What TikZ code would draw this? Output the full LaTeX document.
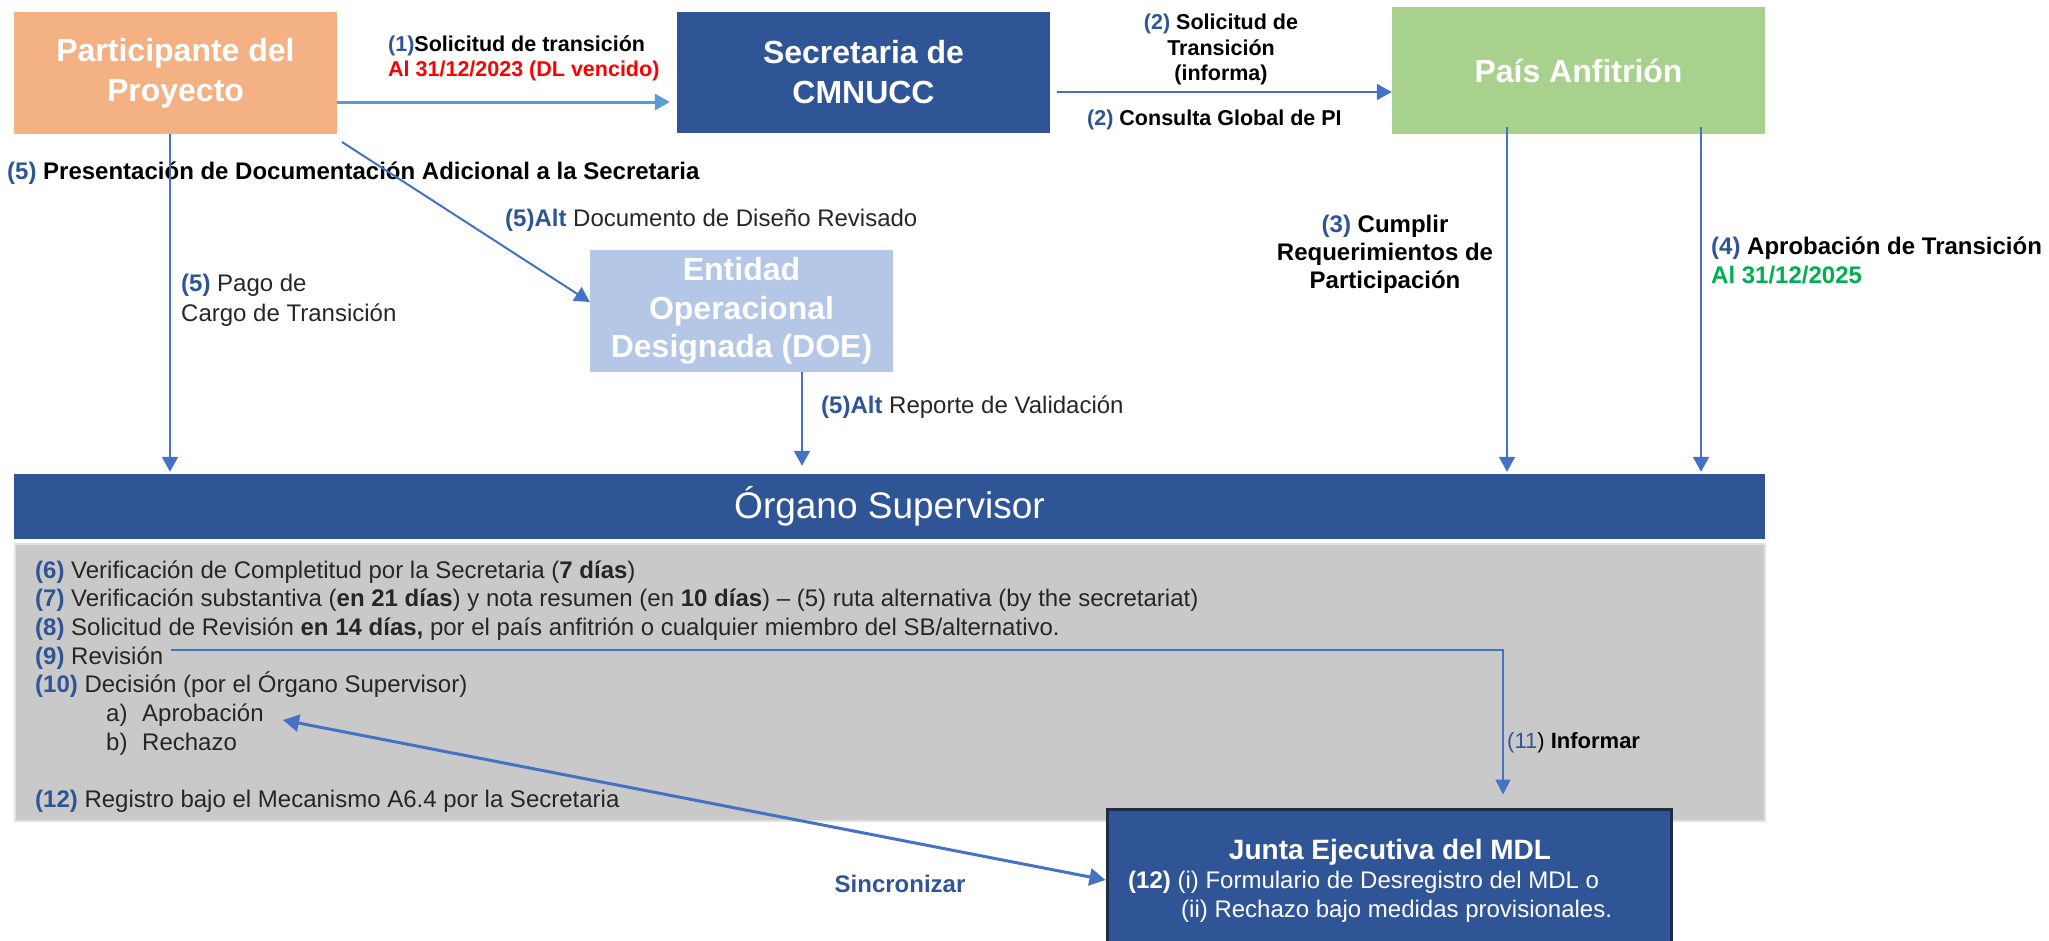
\documentclass[tikz,border=0pt]{standalone}
\usepackage{fontspec}
\setmainfont{Liberation Sans}
\usetikzlibrary{arrows.meta}
\definecolor{cOrange}{HTML}{F4B183}
\definecolor{cBlue}{HTML}{2F5597}
\definecolor{cGreen}{HTML}{A9D18E}
\definecolor{cLight}{HTML}{B4C7E7}
\definecolor{cGray}{HTML}{C9C9C9}
\definecolor{cGrayEdge}{HTML}{E2E2E2}
\definecolor{cArrow}{HTML}{4472C4}
\definecolor{cArrowL}{HTML}{5B9BD5}
\definecolor{cNum}{HTML}{2F5597}
\definecolor{cText}{HTML}{262626}
\definecolor{cRed}{HTML}{FF0000}
\definecolor{cGreenT}{HTML}{00B050}
\definecolor{cEdge}{HTML}{1F2C46}
\newcommand\nb[1]{\textcolor{cNum}{\textbf{#1}}}
\begin{document}
\begin{tikzpicture}[x=1pt,y=-1pt,
  box/.style={rectangle, inner sep=0pt, align=center, text=white},
  bigtxt/.style={font=\fontsize{32}{40}\selectfont\bfseries},
  lbl/.style={inner sep=0pt, text=black},
  gline/.style={inner sep=0pt, anchor=base west, text=cText, font=\fontsize{24}{28}\selectfont},
  conn/.style={draw=cArrow, line width=2pt, -{Triangle[width=16pt,length=15pt]}},
  connL/.style={draw=cArrowL, line width=3pt, -{Triangle[width=16pt,length=15pt]}},
  connthin/.style={draw=cArrow, line width=1.5pt, -{Triangle[width=15pt,length=15pt]}},
  syncarr/.style={draw=cArrow, line width=3pt, {Triangle[width=17pt,length=16pt]}-{Triangle[width=17pt,length=16pt]}}]
\useasboundingbox (0,0) rectangle (2049,940);
\clip (0,0) rectangle (2049,940);

% boxes
\node[box, fill=cOrange, minimum width=323pt, minimum height=122pt, bigtxt] (part) at (175.5,73) {Participante del\\Proyecto};
\node[box, fill=cBlue, minimum width=373pt, minimum height=121pt, bigtxt] (sec) at (863.5,72.5) {Secretaria de\\CMNUCC};
\node[box, fill=cGreen, minimum width=373pt, minimum height=127pt, bigtxt] (pais) at (1578.5,70.5) {País Anfitrión};
\node[box, fill=cLight, minimum width=303pt, minimum height=122pt, font=\fontsize{32}{38.5}\selectfont\bfseries] (doe) at (741.5,311) {Entidad\\Operacional\\Designada (DOE)};
\node[box, fill=cBlue, minimum width=1751pt, minimum height=65pt, font=\fontsize{37}{44}\selectfont] (org) at (889.5,506.5) {Órgano Supervisor};
\node[rectangle, fill=cGray, draw=cGrayEdge, line width=2pt, minimum width=1750pt, minimum height=277pt, inner sep=0pt] (grey) at (890,682.5) {};

% grey box text
\node[gline] (g6) at (35,578) {\nb{(6)} Verificación de Completitud por la Secretaria (\textbf{7 días})};
\node[gline] (g7) at (35,606.7) {\nb{(7)} Verificación substantiva (\textbf{en 21 días}) y nota resumen (en \textbf{10 días}) – (5) ruta alternativa (by the secretariat)};
\node[gline] (g8) at (35,635.4) {\nb{(8)} Solicitud de Revisión \textbf{en 14 días,} por el país anfitrión o cualquier miembro del SB/alternativo.};
\node[gline] (g9) at (35,664.1) {\nb{(9)} Revisión};
\node[gline] (g10) at (35,692.8) {\nb{(10)} Decisión (por el Órgano Supervisor)};
\node[gline] (ga) at (106,721.5) {a)};
\node[gline] (apr) at (142,721.5) {Aprobación};
\node[gline] (gb) at (106,750.2) {b)};
\node[gline] (rech) at (142,750.2) {Rechazo};
\node[gline] (g12) at (35,807.6) {\nb{(12)} Registro bajo el Mecanismo A6.4 por la Secretaria};

% Junta box
\node[rectangle, fill=cBlue, draw=cEdge, line width=3pt, minimum width=564pt, minimum height=136pt, inner sep=0pt] (junta) at (1389,877) {};
\node[inner sep=0pt, anchor=base, text=white, font=\fontsize{28}{34}\selectfont\bfseries] (jt) at (1390,859) {Junta Ejecutiva del MDL};
\node[inner sep=0pt, anchor=base west, text=white, font=\fontsize{24}{28}\selectfont] (j1) at (1128,888.5) {\textbf{(12)} (i) Formulario de Desregistro del MDL o};
\node[inner sep=0pt, anchor=base west, text=white, font=\fontsize{24}{28}\selectfont] (j2) at (1181,917.5) {(ii) Rechazo bajo medidas provisionales.};

% labels
\node[lbl, anchor=west, align=left, font=\fontsize{21.5}{25}\selectfont\bfseries] (l1) at (388,58.5) {\textcolor{cNum}{(1)}Solicitud de transición\\\textcolor{cRed}{Al 31/12/2023 (DL vencido)}};
\node[lbl, align=center, font=\fontsize{21.5}{25.5}\selectfont\bfseries] (l2) at (1221,49.5) {\textcolor{cNum}{(2)} Solicitud de\\Transición\\(informa)};
\node[lbl, anchor=west, font=\fontsize{21.5}{25}\selectfont\bfseries] (l3) at (1087,120) {\textcolor{cNum}{(2)} Consulta Global de PI};
\node[lbl, anchor=west, font=\fontsize{24}{28}\selectfont\bfseries] (l4) at (7,173) {\textcolor{cNum}{(5)} Presentación de Documentación Adicional a la Secretaria};
\node[lbl, anchor=west, text=cText, font=\fontsize{24}{28}\selectfont] (l5) at (505,220) {\nb{(5)Alt} Documento de Diseño Revisado};
\node[lbl, anchor=west, align=left, text=cText, font=\fontsize{24}{30}\selectfont] (l6) at (181,300) {\nb{(5)} Pago de\\Cargo de Transición};
\node[lbl, anchor=west, text=cText, font=\fontsize{24}{28}\selectfont] (l7) at (821,407) {\nb{(5)Alt} Reporte de Validación};
\node[lbl, align=center, font=\fontsize{24}{28}\selectfont\bfseries] (l8) at (1385,254) {\textcolor{cNum}{(3)} Cumplir\\Requerimientos de\\Participación};
\node[lbl, anchor=west, align=left, font=\fontsize{24}{29}\selectfont\bfseries] (l9) at (1711,260.5) {\textcolor{cNum}{(4)} Aprobación de Transición\\\textcolor{cGreenT}{Al 31/12/2025}};
\node[lbl, anchor=west, font=\fontsize{22}{26}\selectfont] (l10) at (1507,743) {\textcolor{cNum}{(11}) \textbf{Informar}};
\node[lbl, text=cNum, font=\fontsize{24}{28}\selectfont\bfseries] (l11) at (900,884) {Sincronizar};

% helper coordinates
\coordinate (y1) at (0,102);
\coordinate (y2) at (0,92);
\coordinate (x1) at (170,0);
\coordinate (x2) at (802,0);
\coordinate (x3) at (1507,0);
\coordinate (x4) at (1701,0);
\coordinate (d1) at (342,142);
\coordinate (d2) at (0,302);
\coordinate (r0) at (171,650);
\coordinate (r1) at (1503,650);
\coordinate (s1) at (283,720);
\coordinate (s2) at (0,880);

% connectors
\draw[connL, shorten >=7pt] (part.east |- y1) -- (sec.west |- y1);
\draw[conn, shorten <=7pt] (sec.east |- y2) -- (pais.west |- y2);
\draw[conn, shorten >=2pt] (part.south -| x1) -- (org.north -| x1);
\draw[conn] (d1) -- (doe.west |- d2);
\draw[conn, shorten >=8pt] (doe.south -| x2) -- (org.north -| x2);
\draw[conn, shorten <=-7pt, shorten >=2pt] (pais.south -| x3) -- (org.north -| x3);
\draw[conn, shorten <=-7pt, shorten >=2pt] (pais.south -| x4) -- (org.north -| x4);
\draw[connthin, shorten >=13pt] (r0) -- (r1) -- (junta.north -| r1);
\draw[syncarr] (s1) -- (junta.west |- s2);
\end{tikzpicture}
\end{document}
